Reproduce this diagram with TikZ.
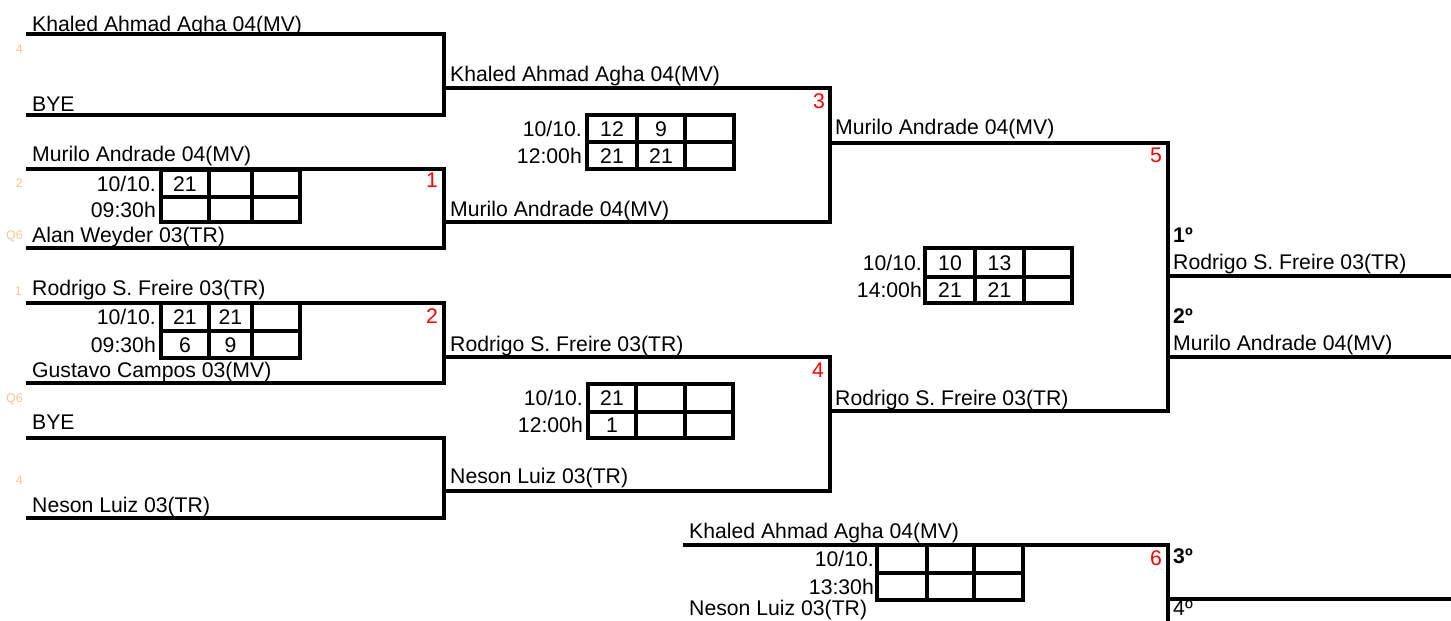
\documentclass[tikz,border=0pt]{standalone}
\usepackage{fontspec}
\setmainfont{Liberation Sans}
\definecolor{seedc}{RGB}{252,196,140}
\definecolor{matchred}{RGB}{255,0,0}
\newcommand\fs{\fontsize{21.2}{24}\selectfont}
\newcommand\cellnode[6]{\node[cell, minimum width=#4pt, minimum height=#5pt, anchor=north west] (#1) at (#2,#3) {#6};}
\newcommand\gridof[1]{%
  \draw[gridln] (#11.north west) rectangle (#16.south east);
  \draw[gridln] (#11.south west) -- (#13.south east);
  \draw[gridln] (#11.north east) -- (#14.south east);
  \draw[gridln] (#12.north east) -- (#15.south east);}
\begin{document}
\begin{tikzpicture}[x=1pt,y=-1pt,
  br/.style={line width=3.1pt, line join=miter},
  gridln/.style={line width=4.2pt, line join=miter, line cap=rect},
  pl/.style={anchor=base west, inner sep=0pt, font=\fs},
  cell/.style={inner sep=0pt, outer sep=0pt, text height=15.2pt, text depth=0pt, font=\fs},
  datelbl/.style={anchor=east, inner sep=0pt, text height=15.2pt, text depth=0pt, font=\fs},
  rednum/.style={anchor=base east, inner sep=0pt, font=\fs, text=matchred},
  seedlbl/.style={anchor=base east, inner sep=0pt, font=\fontsize{12.5}{14}\selectfont, text=seedc},
  place/.style={anchor=base west, inner sep=0pt, font=\fs\bfseries}]
\useasboundingbox (0,0) rectangle (1451,621);

% ---------- bracket coordinates ----------
\coordinate (s1) at (26,34);
\coordinate (s2) at (26,115);
\coordinate (s3) at (26,169);
\coordinate (s4) at (26,248);
\coordinate (s5) at (26,303);
\coordinate (s6) at (26,383);
\coordinate (s7) at (26,438);
\coordinate (s8) at (26,518);
\coordinate (v1) at (444,0);
\coordinate (q1) at (830,88);
\coordinate (q2) at (830,222);
\coordinate (q3) at (830,357);
\coordinate (q4) at (830,491);
\coordinate (t1) at (1168,143);
\coordinate (t2) at (1168,411);
\coordinate (w1) at (1451,276);
\coordinate (w2) at (1451,357);
\coordinate (m6a) at (683,545);
\coordinate (m6b) at (1168,621);
\coordinate (w3) at (1451,599);

% ---------- round 1 ----------
\draw[br] (s1) -- (s1 -| v1) -- (s2 -| v1) -- (s2);
\draw[br] (s3) -- (s3 -| v1) -- (s4 -| v1) -- (s4);
\draw[br] (s5) -- (s5 -| v1) -- (s6 -| v1) -- (s6);
\draw[br] (s7) -- (s7 -| v1) -- (s8 -| v1) -- (s8);
% ---------- round 2 ----------
\draw[br] (q1 -| v1) -- (q1) -- (q2) -- (q2 -| v1);
\draw[br] (q3 -| v1) -- (q3) -- (q4) -- (q4 -| v1);
% ---------- round 3 ----------
\draw[br] (t1 -| q1) -- (t1) -- (t2) -- (t2 -| q1);
% ---------- final ----------
\draw[br] (w1 -| t1) -- (w1);
\draw[br] (w2 -| t1) -- (w2);
% ---------- 3rd place ----------
\draw[br] (m6a) -- (m6a -| m6b) -- (m6b);
\draw[br] (w3 -| m6b) -- (w3);

% ---------- player names ----------
\node[pl] (p1) at (32,31) {Khaled Ahmad Agha 04(MV)};
\node[pl] (p2) at (32,111) {BYE};
\node[pl] (p3) at (32,161) {Murilo Andrade 04(MV)};
\node[pl] (p4) at (32,242) {Alan Weyder 03(TR)};
\node[pl] (p5) at (32,295) {Rodrigo S. Freire 03(TR)};
\node[pl] (p6) at (32,377) {Gustavo Campos 03(MV)};
\node[pl] (p7) at (32,429) {BYE};
\node[pl] (p8) at (32,512) {Neson Luiz 03(TR)};
\node[pl] (r1) at (450,81) {Khaled Ahmad Agha 04(MV)};
\node[pl] (r2) at (450,216) {Murilo Andrade 04(MV)};
\node[pl] (r3) at (450,351) {Rodrigo S. Freire 03(TR)};
\node[pl] (r4) at (450,483) {Neson Luiz 03(TR)};
\node[pl] (u1) at (835,134) {Murilo Andrade 04(MV)};
\node[pl] (u2) at (835,405) {Rodrigo S. Freire 03(TR)};
\node[pl] (f1) at (1173,269) {Rodrigo S. Freire 03(TR)};
\node[pl] (f2) at (1173,350) {Murilo Andrade 04(MV)};
\node[pl] (g1) at (689,538) {Khaled Ahmad Agha 04(MV)};
\node[pl] (g2) at (689,615) {Neson Luiz 03(TR)};

% ---------- places ----------
\node[place] (pl1) at (1173,242) {1º};
\node[place] (pl2) at (1173,323) {2º};
\node[place] (pl3) at (1173,563) {3º};
\node[pl] (pl4) at (1173,615) {4º};

% ---------- match numbers ----------
\node[rednum] (k1) at (438,187) {1};
\node[rednum] (k2) at (438,323) {2};
\node[rednum] (k3) at (825,108) {3};
\node[rednum] (k4) at (824,377) {4};
\node[rednum] (k5) at (1162,162) {5};
\node[rednum] (k6) at (1162,565) {6};

% ---------- seeds ----------
\node[seedlbl] (e1) at (23,53) {4};
\node[seedlbl] (e2) at (23,187) {2};
\node[seedlbl] (e3) at (23,239) {Q6};
\node[seedlbl] (e4) at (22,295) {1};
\node[seedlbl] (e5) at (23,402) {Q6};
\node[seedlbl] (e6) at (23,484) {4};

% ---------- score boxes ----------
% match 1
\cellnode{ma1}{161}{170}{48}{27}{21}
\cellnode{ma2}{209}{170}{43}{27}{}
\cellnode{ma3}{252}{170}{48}{27}{}
\cellnode{ma4}{161}{197}{48}{25}{}
\cellnode{ma5}{209}{197}{43}{25}{}
\cellnode{ma6}{252}{197}{48}{25}{}
\gridof{ma}
\node[datelbl] (da1) at ([xshift=-5pt]ma1.west) {10/10.};
\node[datelbl] (ta1) at ([xshift=-5pt]ma4.west) {09:30h};
% match 2
\cellnode{mb1}{161}{303}{48}{28}{21}
\cellnode{mb2}{209}{303}{43}{28}{21}
\cellnode{mb3}{252}{303}{48}{28}{}
\cellnode{mb4}{161}{331}{48}{27}{6}
\cellnode{mb5}{209}{331}{43}{27}{9}
\cellnode{mb6}{252}{331}{48}{27}{}
\gridof{mb}
\node[datelbl] (db1) at ([xshift=-5pt]mb1.west) {10/10.};
\node[datelbl] (tb1) at ([xshift=-5pt]mb4.west) {09:30h};
% match 3
\cellnode{mc1}{587}{115}{50}{27}{12}
\cellnode{mc2}{637}{115}{48}{27}{9}
\cellnode{mc3}{685}{115}{49}{27}{}
\cellnode{mc4}{587}{142}{50}{27}{21}
\cellnode{mc5}{637}{142}{48}{27}{21}
\cellnode{mc6}{685}{142}{49}{27}{}
\gridof{mc}
\node[datelbl] (dc1) at ([xshift=-5pt]mc1.west) {10/10.};
\node[datelbl] (tc1) at ([xshift=-5pt]mc4.west) {12:00h};
% match 4
\cellnode{md1}{588}{384}{48}{28}{21}
\cellnode{md2}{636}{384}{49}{28}{}
\cellnode{md3}{685}{384}{48}{28}{}
\cellnode{md4}{588}{412}{48}{26}{1}
\cellnode{md5}{636}{412}{49}{26}{}
\cellnode{md6}{685}{412}{48}{26}{}
\gridof{md}
\node[datelbl] (dd1) at ([xshift=-5pt]md1.west) {10/10.};
\node[datelbl] (td1) at ([xshift=-5pt]md4.west) {12:00h};
% match 5 (final)
\cellnode{me1}{925}{248}{50}{29}{10}
\cellnode{me2}{975}{248}{49}{29}{13}
\cellnode{me3}{1024}{248}{48}{29}{}
\cellnode{me4}{925}{277}{50}{26}{21}
\cellnode{me5}{975}{277}{49}{26}{21}
\cellnode{me6}{1024}{277}{48}{26}{}
\gridof{me}
\node[datelbl] (de1) at ([xshift=-3pt]me1.west) {10/10.};
\node[datelbl] (te1) at ([xshift=-3pt]me4.west) {14:00h};
% match 6 (3rd place)
\cellnode{mf1}{877}{545}{50}{28}{}
\cellnode{mf2}{927}{545}{47}{28}{}
\cellnode{mf3}{974}{545}{49}{28}{}
\cellnode{mf4}{877}{573}{50}{27}{}
\cellnode{mf5}{927}{573}{47}{27}{}
\cellnode{mf6}{974}{573}{49}{27}{}
\gridof{mf}
\node[datelbl] (df1) at ([xshift=-3pt]mf1.west) {10/10.};
\node[datelbl] (tf1) at ([xshift=-3pt]mf4.west) {13:30h};
\end{tikzpicture}
\end{document}
